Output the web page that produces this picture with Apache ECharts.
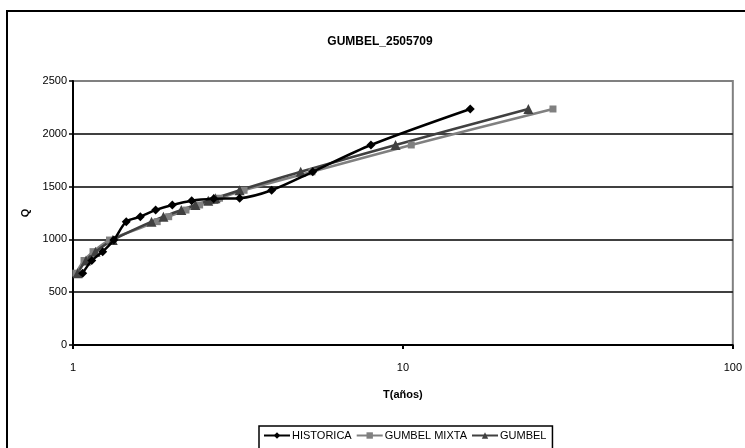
<!DOCTYPE html>
<html>
<head>
<meta charset="utf-8">
<script src="https://cdn.jsdelivr.net/npm/echarts@6/dist/echarts.min.js"></script>
<style>
html,body{margin:0;padding:0;background:#fff;}
#c{width:745px;height:448px;}
</style>
</head>
<body>
<div id="c"></div>
<script>
// Observed flows (Q), shared by all series, sorted descending
var qObserved = [2235, 1894, 1640, 1465, 1390, 1385, 1367, 1326, 1278, 1215, 1168, 994, 884, 800, 680];
// Return periods
var tHistorica   = [16, 8, 5.33, 4, 3.2, 2.67, 2.29, 2, 1.78, 1.6, 1.45, 1.33, 1.23, 1.14, 1.07];
var tGumbelMixta = [28.5, 10.6, 5.3, 3.3, 2.78, 2.74, 2.62, 2.42, 2.2, 1.95, 1.8, 1.29, 1.15, 1.08, 1.02];
var tGumbel      = [24, 9.5, 4.9, 3.2, 2.7, 2.67, 2.57, 2.35, 2.13, 1.88, 1.73, 1.32, 1.17, 1.095, 1.033];
var yTicks = [0, 500, 1000, 1500, 2000, 2500];
var seriesNames = ['HISTORICA', 'GUMBEL MIXTA', 'GUMBEL'];

function pairs(t, q) { return t.map(function (v, i) { return [v, q[i]]; }); }

var FONT = "'Liberation Sans Narrow', 'Liberation Sans', Arial, sans-serif";
var chart = echarts.init(document.getElementById('c'));
chart.setOption({
  animation: false,
  backgroundColor: '#fff',
  title: {
    text: 'GUMBEL_2505709',
    left: 375, top: 31, textAlign: 'center',
    textStyle: { fontFamily: FONT, fontSize: 12, fontWeight: 'bold', color: '#000' }
  },
  graphic: [{
    type: 'rect', shape: { x: 7, y: 11, width: 760, height: 460 },
    style: { fill: 'none', stroke: '#000', lineWidth: 2 }, z: 100
  }],
  grid: {
    left: 73, right: 8, top: 81, bottom: 103,
    show: true, borderColor: '#808080', borderWidth: 2
  },
  legend: {
    left: 259, top: 426,
    data: seriesNames,
    borderColor: '#000', borderWidth: 1.5,
    padding: [4, 6, 8, 4],
    itemGap: 4, itemWidth: 26, itemHeight: 8,
    textStyle: { fontFamily: FONT, fontSize: 11, color: '#000', padding: [0, 0, 0, -3] }
  },
  xAxis: {
    type: 'log', logBase: 10, min: 1, max: 100,
    name: 'T(años)', nameLocation: 'middle', nameGap: 44,
    nameTextStyle: { fontFamily: FONT, fontSize: 11, fontWeight: 'bold', color: '#000' },
    axisLine: { lineStyle: { color: '#000', width: 2 } },
    axisTick: { show: true, inside: false, length: 4, lineStyle: { color: '#000', width: 2 } },
    minorTick: { show: false },
    splitLine: { show: false },
    axisLabel: { fontFamily: FONT, fontSize: 11, color: '#000', margin: 17 }
  },
  yAxis: {
    type: 'value', min: 0, max: 2500, interval: 500,
    name: 'Q', nameLocation: 'middle', nameGap: 40,
    nameTextStyle: { fontFamily: FONT, fontSize: 11, fontWeight: 'bold', color: '#000' },
    axisLine: { show: true, lineStyle: { color: '#000', width: 2 } },
    axisTick: { show: true, length: 4, lineStyle: { color: '#000', width: 1.5 } },
    splitLine: { show: true, lineStyle: { color: ['#000', '#000', '#000', '#000', '#000', '#808080'], width: 1.5 } },
    axisLabel: { fontFamily: FONT, fontSize: 11, color: '#000', margin: 6,
      formatter: function (v) { return yTicks.indexOf(v) >= 0 ? String(v) : ''; } }
  },
  series: [
    {
      name: seriesNames[0], type: 'line', data: pairs(tHistorica, qObserved),
      smooth: 0.3, symbol: 'diamond', symbolSize: 9, z: 3,
      lineStyle: { color: '#000', width: 2.5 }, itemStyle: { color: '#000' }
    },
    {
      name: seriesNames[1], type: 'line', data: pairs(tGumbelMixta, qObserved),
      smooth: 0.3, symbol: 'rect', symbolSize: 7, z: 2,
      lineStyle: { color: '#808080', width: 2.5 }, itemStyle: { color: '#808080' }
    },
    {
      name: seriesNames[2], type: 'line', data: pairs(tGumbel, qObserved),
      smooth: 0.3, symbol: 'triangle', symbolSize: 10, z: 2,
      lineStyle: { color: '#404040', width: 2.5 }, itemStyle: { color: '#404040' }
    }
  ]
});
</script>
</body>
</html>
